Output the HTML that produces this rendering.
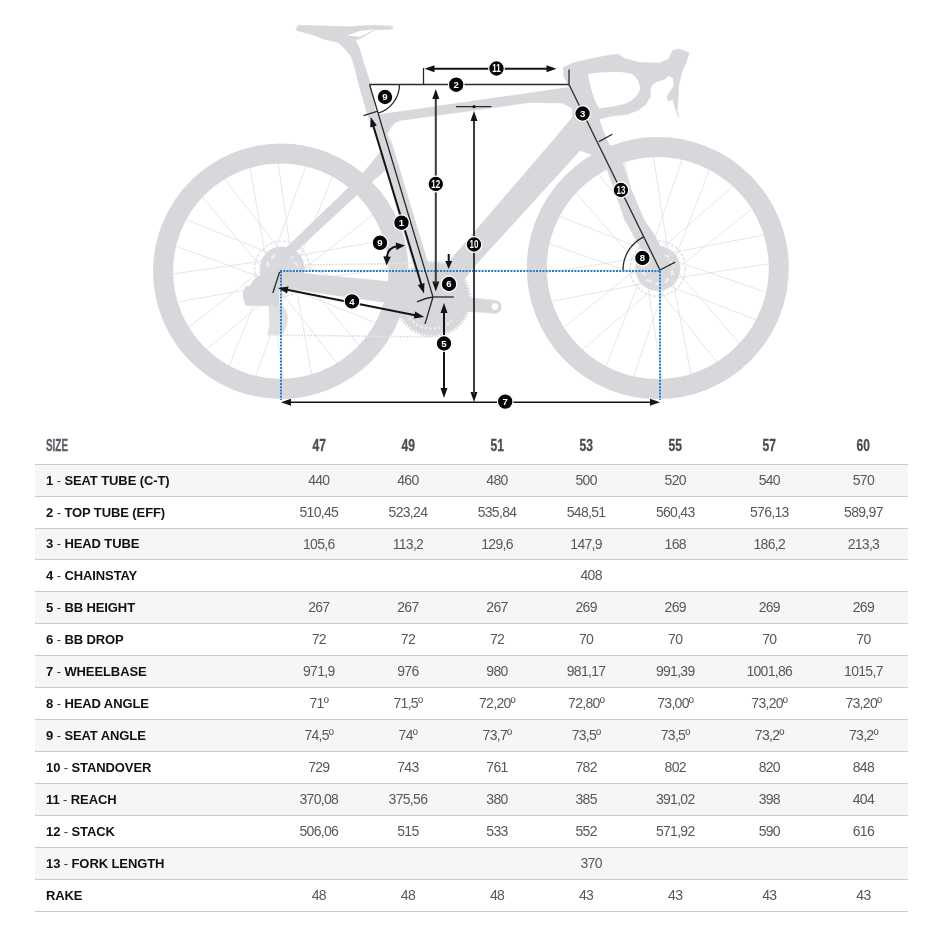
<!DOCTYPE html>
<html><head><meta charset="utf-8"><title>Geometry</title>
<style>
html,body{margin:0;padding:0;background:#fff;}
body{width:939px;height:939px;overflow:hidden;position:relative;font-family:"Liberation Sans",Arial,sans-serif;}
svg.bike{position:absolute;left:0;top:0;}
svg.bike text{font-family:"Liberation Sans",Arial,sans-serif;}
table{position:absolute;left:35px;top:433px;width:873px;border-collapse:collapse;table-layout:fixed;}
td{height:30px;padding:0 0 1px 0;text-align:center;font-size:14px;letter-spacing:-0.7px;color:#585858;border-bottom:1px solid #cbcbcb;white-space:nowrap;}
td.l{text-align:left;padding-left:11px;font-weight:bold;color:#111;font-size:13px;letter-spacing:-0.1px;}
tr.o td{background:#f5f6f6;}
tr.s td{height:29px;}
.d{font-weight:normal;color:#333;}
tr.h td{letter-spacing:0;}
tr.h td{border-bottom:1px solid #c9c9c9;font-weight:bold;font-size:16.5px;line-height:16.5px;color:#4a4d52;vertical-align:top;padding-top:4px;padding-bottom:0;height:27px;-webkit-text-stroke:0.3px #4a4d52;}
tr.h td span{display:inline-block;transform:scaleX(0.73);}
tr.h td.l span{transform:scaleX(0.6);transform-origin:0 50%;color:#585c62;-webkit-text-stroke:0.3px #585c62;}
</style></head><body>
<svg class="bike" width="939" height="420" viewBox="0 0 939 420">
<path d="M288.7 282.8L389.5 268.4M290.9 261.5L386.5 296.6M281.8 285.2L376.3 323.1M294.4 267.9L359.6 346M274.7 283.8L337.6 363.9M294.2 275.1L311.7 375.4M269.2 279.1L283.6 379.9M290.5 281.3L255.4 376.9M266.8 272.2L228.9 366.7M284.1 284.8L206 350M268.2 265.1L188.1 328M276.9 284.6L176.6 302.1M272.9 259.6L172.1 274M270.7 280.9L175.1 245.8M279.8 257.2L185.3 219.3M267.2 274.5L202 196.4M286.9 258.6L224 178.5M267.4 267.3L249.9 167M292.4 263.3L278 162.5M271.1 261.1L306.2 165.5M294.8 270.2L332.7 175.7M277.5 257.6L355.6 192.4M293.4 277.3L373.5 214.4M284.7 257.8L385 240.3" stroke="#e2e3e4" stroke-width="0.9" fill="none"/>
<path d="M665.8 279.6L769.7 263.6M667.8 258.3L767.1 292.7M659 282L757 320.2M671.3 264.6L740.1 344.1M651.9 280.8L717.6 362.8M671.3 271.8L691.1 375M646.3 276.1L662.3 380M667.6 278.1L633.2 377.4M643.9 269.3L605.7 367.3M661.3 281.6L581.8 350.4M645.1 262.2L563.1 327.9M654.1 281.6L550.9 301.4M649.8 256.6L545.9 272.6M647.8 277.9L548.5 243.5M656.6 254.2L558.6 216M644.3 271.6L575.5 192.1M663.7 255.4L598 173.4M644.3 264.4L624.5 161.2M669.3 260.1L653.3 156.2M648 258.1L682.4 158.8M671.7 266.9L709.9 168.9M654.3 254.6L733.8 185.8M670.5 274L752.5 208.3M661.5 254.6L764.7 234.8" stroke="#e2e3e4" stroke-width="0.9" fill="none"/>
<circle cx="280.8" cy="271.2" r="117.7" fill="none" stroke="#d7d8db" stroke-width="20"/>
<circle cx="657.8" cy="268.1" r="121.0" fill="none" stroke="#d7d8db" stroke-width="20"/>
<circle cx="282.2" cy="268.9" r="27.6" fill="none" stroke="#e2e3e4" stroke-width="1.6" stroke-dasharray="3 1.5"/><circle cx="282.2" cy="268.9" r="22.5" fill="#d9dadd"/><ellipse cx="296.5" cy="273.3" rx="3.2" ry="1.5" transform="rotate(87.2 296.5 273.3)" fill="#ebeced"/><ellipse cx="291.2" cy="280.9" rx="3.2" ry="1.5" transform="rotate(123.2 291.2 280.9)" fill="#ebeced"/><ellipse cx="282.4" cy="283.9" rx="3.2" ry="1.5" transform="rotate(159.2 282.4 283.9)" fill="#ebeced"/><ellipse cx="273.6" cy="281.2" rx="3.2" ry="1.5" transform="rotate(195.2 273.6 281.2)" fill="#ebeced"/><ellipse cx="268" cy="273.7" rx="3.2" ry="1.5" transform="rotate(231.2 268 273.7)" fill="#ebeced"/><ellipse cx="267.9" cy="264.5" rx="3.2" ry="1.5" transform="rotate(267.2 267.9 264.5)" fill="#ebeced"/><ellipse cx="273.2" cy="256.9" rx="3.2" ry="1.5" transform="rotate(303.2 273.2 256.9)" fill="#ebeced"/><ellipse cx="282" cy="253.9" rx="3.2" ry="1.5" transform="rotate(339.2 282 253.9)" fill="#ebeced"/><ellipse cx="290.8" cy="256.6" rx="3.2" ry="1.5" transform="rotate(375.2 290.8 256.6)" fill="#ebeced"/><ellipse cx="296.4" cy="264.1" rx="3.2" ry="1.5" transform="rotate(411.2 296.4 264.1)" fill="#ebeced"/>
<circle cx="657.8" cy="268.5" r="27.6" fill="none" stroke="#e2e3e4" stroke-width="1.6" stroke-dasharray="3 1.5"/><circle cx="657.8" cy="268.5" r="22.5" fill="#d9dadd"/><ellipse cx="672.1" cy="272.9" rx="3.2" ry="1.5" transform="rotate(87.2 672.1 272.9)" fill="#ebeced"/><ellipse cx="666.8" cy="280.5" rx="3.2" ry="1.5" transform="rotate(123.2 666.8 280.5)" fill="#ebeced"/><ellipse cx="658" cy="283.5" rx="3.2" ry="1.5" transform="rotate(159.2 658 283.5)" fill="#ebeced"/><ellipse cx="649.2" cy="280.8" rx="3.2" ry="1.5" transform="rotate(195.2 649.2 280.8)" fill="#ebeced"/><ellipse cx="643.6" cy="273.3" rx="3.2" ry="1.5" transform="rotate(231.2 643.6 273.3)" fill="#ebeced"/><ellipse cx="643.5" cy="264.1" rx="3.2" ry="1.5" transform="rotate(267.2 643.5 264.1)" fill="#ebeced"/><ellipse cx="648.8" cy="256.5" rx="3.2" ry="1.5" transform="rotate(303.2 648.8 256.5)" fill="#ebeced"/><ellipse cx="657.6" cy="253.5" rx="3.2" ry="1.5" transform="rotate(339.2 657.6 253.5)" fill="#ebeced"/><ellipse cx="666.4" cy="256.2" rx="3.2" ry="1.5" transform="rotate(375.2 666.4 256.2)" fill="#ebeced"/><ellipse cx="672" cy="263.7" rx="3.2" ry="1.5" transform="rotate(411.2 672 263.7)" fill="#ebeced"/>
<path d="M305 265L432 263M268 335L433 337" stroke="#e1e2e3" stroke-width="1.6" stroke-dasharray="2 1" fill="none"/>
<path d="M380.5 152 L386 170 L366 186.5 L292 255 L284 264 L278 256 L284 250 L361.3 175.2 Z" fill="#d7d8db" stroke="#d7d8db" stroke-width="0.6"/>
<path d="M276 268 L282 271.5 L388 281.5 L432 288 L436 306 L382 302 L285 288 L276 286 Z" fill="#d7d8db" stroke="#d7d8db" stroke-width="0.6"/>
<path d="M250 286 Q255 276 266 272 L281 272 L281 288 Z" fill="#d7d8db" stroke="#d7d8db" stroke-width="0.6"/>
<path d="M268.5 305 L282 305 Q289 312 287.5 322 Q286 330 282.7 334.6 L267 334.6 Q270 327 269.3 319.7 Z" fill="#dfe0e2"/>
<path d="M246 286.2 L279 286.2 L279 305.6 L246 305.6 Q243 300 243.2 292 Z" fill="#d7d8db" stroke="#d7d8db" stroke-width="0.6"/>
<path d="M357.6 80 L369.3 80 L372 95 L375.7 112 L392 144 L438 297 L423 299 L378.5 144 L366.6 112 Z" fill="#d7d8db" stroke="#d7d8db" stroke-width="0.6"/>
<path d="M336.9 42 C341 44 345 49 351 56 L355.6 70 L357.6 80 L369.3 80 L366.1 70 L362.6 59.5 L359.1 47.8 L355.6 40.2 Z" fill="#d7d8db" stroke="#d7d8db" stroke-width="0.6"/>
<path d="M296.4 28.5 C297 26 299 25.3 299.4 25.3 L325 26.1 L348.6 26.7 L372 25.3 L390.7 26.1 C393 26.5 393.5 27.5 393 28 L390.7 29.6 L376.7 29.6 L374.3 30.2 L360.3 38.4 L355.6 40 L336.9 42 L334.5 41.4 L325.1 39.6 L313.4 34.9 L296.4 30.2 Z" fill="#d7d8db" stroke="#d7d8db" stroke-width="0.6"/>
<path d="M347.4 35.5 L360.3 30.8 L374.3 29.6 L360.3 36.7 Z" fill="#fff"/>
<path d="M376 116 L379.4 114.6 L420 108.8 L530 93 L568.3 87.5 L575 100 L572.6 108.3 L562 103 L530 102.5 L420 117.7 L399.6 120.5 Q391 124 388 133 L384 140 Z" fill="#d7d8db" stroke="#d7d8db" stroke-width="0.6"/>
<path d="M563.2 67.6 L587.5 72 L594 102 L599 119 L604.5 134 L609 144.5 L612 152 L596 156 L580 150.4 L566 128 L572.6 116.9 L572.6 108.3 L569 88 L566.2 80.3 Z" fill="#d7d8db" stroke="#d7d8db" stroke-width="0.6"/>
<path d="M600 146 L620 146 L621.7 160 L631.4 189.8 L644 219.6 L655 236 L666 258 L667 272 L656 276 L650 262 L636 240 L624.7 219.6 L614.3 189.8 L603.8 160 Z" fill="#d7d8db" stroke="#d7d8db" stroke-width="0.6"/>
<path d="M572.6 116.9 L562 130 L476.4 229.7 L450.8 259.5 L432 285 L448 300 L475.5 265 L489.2 250 L580 150.4 L600 146 L596 120 Z" fill="#d7d8db" stroke="#d7d8db" stroke-width="0.6"/>
<circle cx="433" cy="299" r="36" fill="#d7d8db" stroke="#d7d8db" stroke-width="0.6"/>
<circle cx="433" cy="299" r="37" fill="none" stroke="#d7d8db" stroke-width="2.6" stroke-dasharray="1.6 1.3"/>
<path d="M407 314 A29 29 0 0 0 452 321" fill="none" stroke="#eeeff0" stroke-width="2.2" stroke-dasharray="2.2 2.4"/>
<path d="M440 292 L461.8 297 L496.5 300.4 A6.6 6.6 0 0 1 495 313.3 L461.8 310.8 L440 310 Z" fill="#d7d8db" stroke="#d7d8db" stroke-width="0.6"/>
<circle cx="495" cy="306.6" r="3.3" fill="#fff"/>
<path d="M563.2 67.6 L574.4 62.4 L592.3 58.6 L605.7 55.7 L617.6 54.2 L625 58.6 L638.5 62.4 L659.4 63.1 L668.3 59.4 L672.8 50.4 L678.8 49 L689.2 52.7 L686.2 62.4 L681.7 72.8 L678.8 84.7 L678 99.6 L677.3 110 L678.8 117.5 L674.3 105.6 L672.8 99.6 L668.3 101 L666.8 96.7 L669.8 92.2 L674.3 84.7 L672.8 77.3 L668.3 75.8 L665.3 78.8 L656.4 81.7 L651.9 84.7 L650.4 89.2 L650.4 96.7 L646 104.1 L638.5 110 L626.6 114.5 L611.7 116 L599.7 119 L595.3 123.5 L590 110 L585 90 L566.2 80.3 L564 77.3 Z" fill="#d7d8db" stroke="#d7d8db" stroke-width="0.6"/>
<path d="M587.8 74.3 C600 72 620 71 629.5 73.5 C636 75 640 82 640 89.2 C639 95 632 101 625 104.1 C615 106.5 605 107.5 599.7 108.6 C596 104 593 96 590.8 87.7 Z" fill="#fff"/>
<path d="M280 271H661M281 271V400M660 271V400" stroke="#2a7cc4" stroke-width="2" stroke-dasharray="2 1.2" fill="none"/>
<line x1="369.5" y1="84.5" x2="569" y2="84.5" stroke="#2a2a2a" stroke-width="1.3"/>
<line x1="369.5" y1="84.5" x2="433" y2="297" stroke="#2a2a2a" stroke-width="1.3"/>
<line x1="569" y1="84.5" x2="660" y2="270" stroke="#2a2a2a" stroke-width="1.3"/>
<line x1="433" y1="297" x2="453.7" y2="297" stroke="#2a2a2a" stroke-width="1.3"/>
<line x1="433" y1="297" x2="425" y2="324" stroke="#2a2a2a" stroke-width="1.3"/>
<path d="M417 301.8 Q425 298 433 297" stroke="#2a2a2a" stroke-width="1.3" fill="none"/>
<line x1="363.5" y1="115.6" x2="377" y2="111.4" stroke="#2a2a2a" stroke-width="1.3"/>
<line x1="598.8" y1="141.6" x2="612.4" y2="134.3" stroke="#2a2a2a" stroke-width="1.3"/>
<line x1="660" y1="270" x2="675.2" y2="262.2" stroke="#2a2a2a" stroke-width="1.3"/>
<line x1="272.8" y1="293" x2="279.6" y2="272" stroke="#2a2a2a" stroke-width="1.3"/>
<line x1="423.5" y1="68" x2="423.5" y2="84.5" stroke="#2a2a2a" stroke-width="1.3"/>
<line x1="569" y1="69.5" x2="569" y2="84.5" stroke="#2a2a2a" stroke-width="1.3"/>
<line x1="456" y1="106.7" x2="491.4" y2="106.7" stroke="#2a2a2a" stroke-width="1.3"/>
<circle cx="474" cy="106.7" r="1.6" fill="#141414"/>
<path d="M399.5 84.5A30 30 0 0 1 378.1 113.2" stroke="#2a2a2a" stroke-width="1.3" fill="none"/>
<path d="M643.7 236.8A37 37 0 0 0 623 270" stroke="#2a2a2a" stroke-width="1.3" fill="none"/>
<path d="M424.5 68.8L434.5 65.3L434.5 72.3Z" fill="#141414"/><line x1="432.5" y1="68.8" x2="548.5" y2="68.8" stroke="#141414" stroke-width="2"/><path d="M556.5 68.8L546.5 72.3L546.5 65.3Z" fill="#141414"/>
<path d="M435.8 291.5L432.3 281.5L439.3 281.5Z" fill="#141414"/><line x1="435.8" y1="283.5" x2="435.8" y2="97" stroke="#3a3a3a" stroke-width="2"/><path d="M435.8 89L439.3 99L432.3 99Z" fill="#141414"/>
<path d="M474 402L470.5 392L477.5 392Z" fill="#141414"/><line x1="474" y1="394" x2="474" y2="119" stroke="#3a3a3a" stroke-width="2"/><path d="M474 111L477.5 121L470.5 121Z" fill="#141414"/>
<path d="M444 398L440.5 388L447.5 388Z" fill="#141414"/><line x1="444" y1="390" x2="444" y2="311" stroke="#141414" stroke-width="2"/><path d="M444 303L447.5 313L440.5 313Z" fill="#141414"/>
<line x1="448.7" y1="254" x2="448.7" y2="263" stroke="#141414" stroke-width="2"/><path d="M448.7 269L445.2 261L452.2 261Z" fill="#141414"/>
<path d="M281 402.3L291 398.8L291 405.8Z" fill="#141414"/><line x1="289" y1="402.3" x2="652" y2="402.3" stroke="#141414" stroke-width="1.6"/><path d="M660 402.3L650 405.8L650 398.8Z" fill="#141414"/>
<path d="M278 288L288.5 286.5L287.1 293.4Z" fill="#141414"/><line x1="285.8" y1="289.6" x2="416.5" y2="315.4" stroke="#141414" stroke-width="2"/><path d="M424.3 317L413.8 318.5L415.2 311.6Z" fill="#141414"/>
<path d="M424 293.5L417.8 284.9L424.5 282.9Z" fill="#141414"/><line x1="421.7" y1="285.8" x2="373" y2="124.7" stroke="#141414" stroke-width="2"/><path d="M370.7 117L376.9 125.6L370.2 127.6Z" fill="#141414"/>
<path d="M387 257 Q388 247.5 397 246.3" stroke="#141414" stroke-width="2" fill="none"/>
<path d="M405 245.5L396.4 250L395.7 242.5Z" fill="#141414"/>
<path d="M386.6 265.5L383.3 256.3L390.8 256.7Z" fill="#141414"/>
<circle cx="456.2" cy="84.7" r="7.8" fill="#050505" stroke="#fff" stroke-width="1.2"/><text x="456.2" y="88.1" text-anchor="middle" font-size="9.6" font-weight="bold" fill="#fff">2</text>
<circle cx="496.5" cy="68.5" r="7.8" fill="#050505" stroke="#fff" stroke-width="1.2"/><text x="496.5" y="72.1" text-anchor="middle" font-size="10" font-weight="bold" fill="#fff" transform="translate(496.5 0) scale(0.8 1) translate(-496.5 0)">11</text>
<circle cx="385" cy="97" r="7.8" fill="#050505" stroke="#fff" stroke-width="1.2"/><text x="385" y="100.4" text-anchor="middle" font-size="9.6" font-weight="bold" fill="#fff">9</text>
<circle cx="435.8" cy="184" r="7.8" fill="#050505" stroke="#fff" stroke-width="1.2"/><text x="435.8" y="187.6" text-anchor="middle" font-size="10" font-weight="bold" fill="#fff" transform="translate(435.8 0) scale(0.8 1) translate(-435.8 0)">12</text>
<circle cx="474" cy="244.5" r="7.8" fill="#050505" stroke="#fff" stroke-width="1.2"/><text x="474" y="248.1" text-anchor="middle" font-size="10" font-weight="bold" fill="#fff" transform="translate(474 0) scale(0.8 1) translate(-474 0)">10</text>
<circle cx="401.5" cy="222.7" r="7.8" fill="#050505" stroke="#fff" stroke-width="1.2"/><text x="401.5" y="226.1" text-anchor="middle" font-size="9.6" font-weight="bold" fill="#fff">1</text>
<circle cx="380" cy="242.8" r="7.8" fill="#050505" stroke="#fff" stroke-width="1.2"/><text x="380" y="246.2" text-anchor="middle" font-size="9.6" font-weight="bold" fill="#fff">9</text>
<circle cx="449" cy="284" r="7.8" fill="#050505" stroke="#fff" stroke-width="1.2"/><text x="449" y="287.4" text-anchor="middle" font-size="9.6" font-weight="bold" fill="#fff">6</text>
<circle cx="444" cy="343.5" r="7.8" fill="#050505" stroke="#fff" stroke-width="1.2"/><text x="444" y="346.9" text-anchor="middle" font-size="9.6" font-weight="bold" fill="#fff">5</text>
<circle cx="352" cy="301.4" r="7.8" fill="#050505" stroke="#fff" stroke-width="1.2"/><text x="352" y="304.8" text-anchor="middle" font-size="9.6" font-weight="bold" fill="#fff">4</text>
<circle cx="505.2" cy="401.6" r="7.8" fill="#050505" stroke="#fff" stroke-width="1.2"/><text x="505.2" y="405" text-anchor="middle" font-size="9.6" font-weight="bold" fill="#fff">7</text>
<circle cx="582.6" cy="113.5" r="7.8" fill="#050505" stroke="#fff" stroke-width="1.2"/><text x="582.6" y="116.9" text-anchor="middle" font-size="9.6" font-weight="bold" fill="#fff">3</text>
<circle cx="620.9" cy="190" r="7.8" fill="#050505" stroke="#fff" stroke-width="1.2"/><text x="620.9" y="193.6" text-anchor="middle" font-size="10" font-weight="bold" fill="#fff" transform="translate(620.9 0) scale(0.8 1) translate(-620.9 0)">13</text>
<circle cx="642.4" cy="258" r="7.8" fill="#050505" stroke="#fff" stroke-width="1.2"/><text x="642.4" y="261.4" text-anchor="middle" font-size="9.6" font-weight="bold" fill="#fff">8</text>
</svg>
<table>
<colgroup><col style="width:239px"><col style="width:89px"><col style="width:89px"><col style="width:89px"><col style="width:89px"><col style="width:89px"><col style="width:99px"><col style="width:89px"></colgroup>
<tr class="h"><td class="l"><span>SIZE</span></td><td><span>47</span></td><td><span>49</span></td><td><span>51</span></td><td><span>53</span></td><td><span>55</span></td><td><span>57</span></td><td><span>60</span></td></tr>
<tr class="o"><td class="l">1 <span class="d">-</span> SEAT TUBE (C-T)</td><td>440</td><td>460</td><td>480</td><td>500</td><td>520</td><td>540</td><td>570</td></tr>
<tr class="e"><td class="l">2 <span class="d">-</span> TOP TUBE (EFF)</td><td>510,45</td><td>523,24</td><td>535,84</td><td>548,51</td><td>560,43</td><td>576,13</td><td>589,97</td></tr>
<tr class="o s"><td class="l">3 <span class="d">-</span> HEAD TUBE</td><td>105,6</td><td>113,2</td><td>129,6</td><td>147,9</td><td>168</td><td>186,2</td><td>213,3</td></tr>
<tr class="e"><td class="l">4 <span class="d">-</span> CHAINSTAY</td><td colspan="7">408</td></tr>
<tr class="o"><td class="l">5 <span class="d">-</span> BB HEIGHT</td><td>267</td><td>267</td><td>267</td><td>269</td><td>269</td><td>269</td><td>269</td></tr>
<tr class="e"><td class="l">6 <span class="d">-</span> BB DROP</td><td>72</td><td>72</td><td>72</td><td>70</td><td>70</td><td>70</td><td>70</td></tr>
<tr class="o"><td class="l">7 <span class="d">-</span> WHEELBASE</td><td>971,9</td><td>976</td><td>980</td><td>981,17</td><td>991,39</td><td>1001,86</td><td>1015,7</td></tr>
<tr class="e"><td class="l">8 <span class="d">-</span> HEAD ANGLE</td><td>71º</td><td>71,5º</td><td>72,20º</td><td>72,80º</td><td>73,00º</td><td>73,20º</td><td>73,20º</td></tr>
<tr class="o"><td class="l">9 <span class="d">-</span> SEAT ANGLE</td><td>74,5º</td><td>74º</td><td>73,7º</td><td>73,5º</td><td>73,5º</td><td>73,2º</td><td>73,2º</td></tr>
<tr class="e"><td class="l">10 <span class="d">-</span> STANDOVER</td><td>729</td><td>743</td><td>761</td><td>782</td><td>802</td><td>820</td><td>848</td></tr>
<tr class="o"><td class="l">11 <span class="d">-</span> REACH</td><td>370,08</td><td>375,56</td><td>380</td><td>385</td><td>391,02</td><td>398</td><td>404</td></tr>
<tr class="e"><td class="l">12 <span class="d">-</span> STACK</td><td>506,06</td><td>515</td><td>533</td><td>552</td><td>571,92</td><td>590</td><td>616</td></tr>
<tr class="o"><td class="l">13 <span class="d">-</span> FORK LENGTH</td><td colspan="7">370</td></tr>
<tr class="e"><td class="l">RAKE</td><td>48</td><td>48</td><td>48</td><td>43</td><td>43</td><td>43</td><td>43</td></tr>
</table>
</body></html>
